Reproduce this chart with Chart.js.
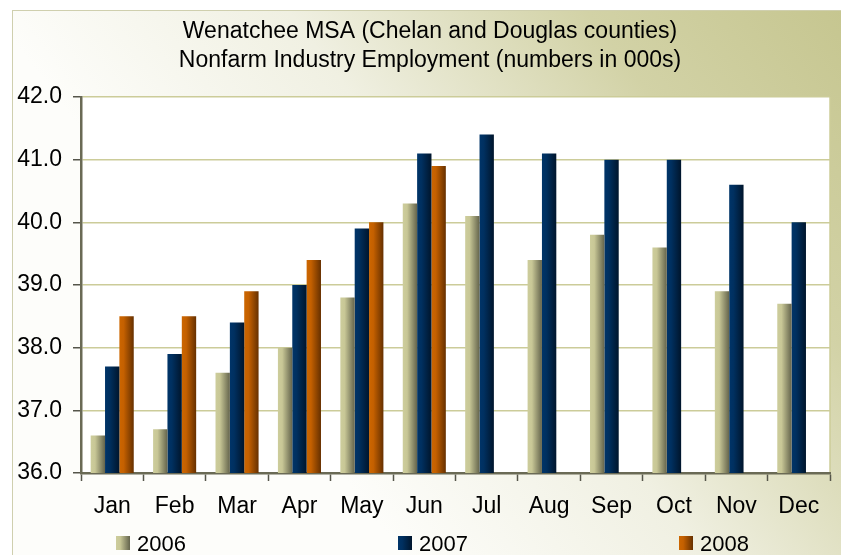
<!DOCTYPE html>
<html>
<head>
<meta charset="utf-8">
<script src="https://cdn.jsdelivr.net/npm/chart.js@4.4.1/dist/chart.umd.min.js"></script>
<style>
html,body{margin:0;padding:0;background:#fff;}
#wrap{width:841px;height:555px;}
</style>
</head>
<body>
<div id="wrap"><canvas id="c" width="841" height="555"></canvas></div>
<script>
const titleLines = ['Wenatchee MSA (Chelan and Douglas counties)', 'Nonfarm Industry Employment (numbers in 000s)'];
const months = ['Jan','Feb','Mar','Apr','May','Jun','Jul','Aug','Sep','Oct','Nov','Dec'];
const seriesNames = ['2006','2007','2008'];
const v2006 = [36.6, 36.7, 37.6, 38.0, 38.8, 40.3, 40.1, 39.4, 39.8, 39.6, 38.9, 38.7];
const v2007 = [37.7, 37.9, 38.4, 39.0, 39.9, 41.1, 41.4, 41.1, 41.0, 41.0, 40.6, 40.0];
const v2008 = [38.5, 38.5, 38.9, 39.4, 40.0, 40.9, null, null, null, null, null, null];
const yMin = 36, yMax = 42, yStep = 1;

const FONT = "'Liberation Sans', Arial, sans-serif";
const grads = [
  ['#cdcd9c', '#c8c796', '#64644c'],
  ['#003468', '#003060', '#00152c'],
  ['#cc6600', '#c46000', '#663000']
];

function makeGrad(ctx, x0, x1, g) {
  const gr = ctx.createLinearGradient(x0, 0, x1, 0);
  gr.addColorStop(0, g[0]);
  gr.addColorStop(0.3, g[1]);
  gr.addColorStop(1, g[2]);
  return gr;
}

const bgPlugin = {
  id: 'bgPlugin',
  beforeDraw(chart) {
    const ctx = chart.ctx, W = chart.width, H = chart.height, a = chart.chartArea;
    ctx.save();
    ctx.fillStyle = '#ffffff';
    ctx.fillRect(0, 0, W, H);
    const g = ctx.createLinearGradient(W, 10, 300, 420);
    g.addColorStop(0, '#c6c690');
    g.addColorStop(0.3, '#d2d2a6');
    g.addColorStop(0.65, '#f0f0e2');
    g.addColorStop(1, '#fdfdfa');
    ctx.fillStyle = g;
    ctx.fillRect(12, 10, W - 12, H - 10);
    ctx.strokeStyle = '#cfcfae';
    ctx.lineWidth = 1;
    ctx.strokeRect(12.5, 10.5, W, H);
    ctx.fillStyle = '#ffffff';
    ctx.fillRect(a.left, a.top, a.right - a.left, a.bottom - a.top);
    ctx.strokeStyle = '#cccc99';
    ctx.lineWidth = 1.5;
    ctx.beginPath();
    ctx.moveTo(a.right, a.top);
    ctx.lineTo(a.right, a.bottom);
    ctx.stroke();
    // title
    ctx.fillStyle = '#000';
    ctx.font = '23px ' + FONT;
    ctx.textAlign = 'center';
    ctx.textBaseline = 'alphabetic';
    ctx.fillText(titleLines[0], 430, 38);
    ctx.fillText(titleLines[1], 430, 67);
    ctx.restore();
  },
  beforeDatasetsDraw(chart) {
    const ctx = chart.ctx;
    chart.data.datasets.forEach((ds, i) => {
      const meta = chart.getDatasetMeta(i);
      meta.data.forEach(el => {
        if (el && isFinite(el.x) && el.width) {
          const o = Object.assign({}, el.options);
          o.backgroundColor = makeGrad(ctx, el.x - el.width / 2, el.x + el.width / 2, grads[i]);
          el.options = o;
        }
      });
    });
  },
  afterDraw(chart) {
    const ctx = chart.ctx;
    ctx.save();
    const xs = [116, 398, 679];
    ctx.font = '22px ' + FONT;
    ctx.textBaseline = 'alphabetic';
    ctx.textAlign = 'left';
    chart.data.datasets.forEach((ds, i) => {
      const x = xs[i];
      ctx.fillStyle = makeGrad(ctx, x, x + 14, grads[i]);
      ctx.fillRect(x, 536, 14, 14);
      ctx.fillStyle = '#000';
      ctx.fillText(ds.label, x + 21, 551);
    });
    ctx.restore();
  }
};

new Chart(document.getElementById('c'), {
  type: 'bar',
  data: {
    labels: months,
    datasets: [
      { label: seriesNames[0], data: v2006, backgroundColor: grads[0][1] },
      { label: seriesNames[1], data: v2007, backgroundColor: grads[1][1] },
      { label: seriesNames[2], data: v2008, backgroundColor: grads[2][1] }
    ]
  },
  options: {
    responsive: false,
    animation: false,
    events: [],
    layout: { padding: { left: 0, right: 11, top: 97, bottom: 0 } },
    datasets: { bar: { categoryPercentage: 0.69, barPercentage: 1.0, borderWidth: 0 } },
    plugins: { legend: { display: false }, title: { display: false }, tooltip: { enabled: false } },
    scales: {
      x: {
        afterFit(s) { s.height = 82; },
        grid: { display: true, drawOnChartArea: false, drawTicks: true, tickLength: 8, tickColor: '#55554a', tickWidth: 1.5, offset: true },
        border: { display: true, color: '#6a6a55', width: 2.5 },
        ticks: { color: '#000', font: { family: FONT, size: 23 }, padding: 12, maxRotation: 0, autoSkip: false }
      },
      y: {
        min: yMin, max: yMax,
        afterFit(s) { s.width = 81; },
        grid: { color: '#cccc99', lineWidth: 1.5, tickLength: 8, tickColor: '#55554a', tickWidth: 1.5 },
        border: { display: true, color: '#6a6a55', width: 2.5 },
        ticks: { stepSize: yStep, color: '#000', font: { family: FONT, size: 23 }, padding: 11, callback: v => Number(v).toFixed(1) }
      }
    }
  },
  plugins: [bgPlugin]
});
</script>
</body>
</html>
